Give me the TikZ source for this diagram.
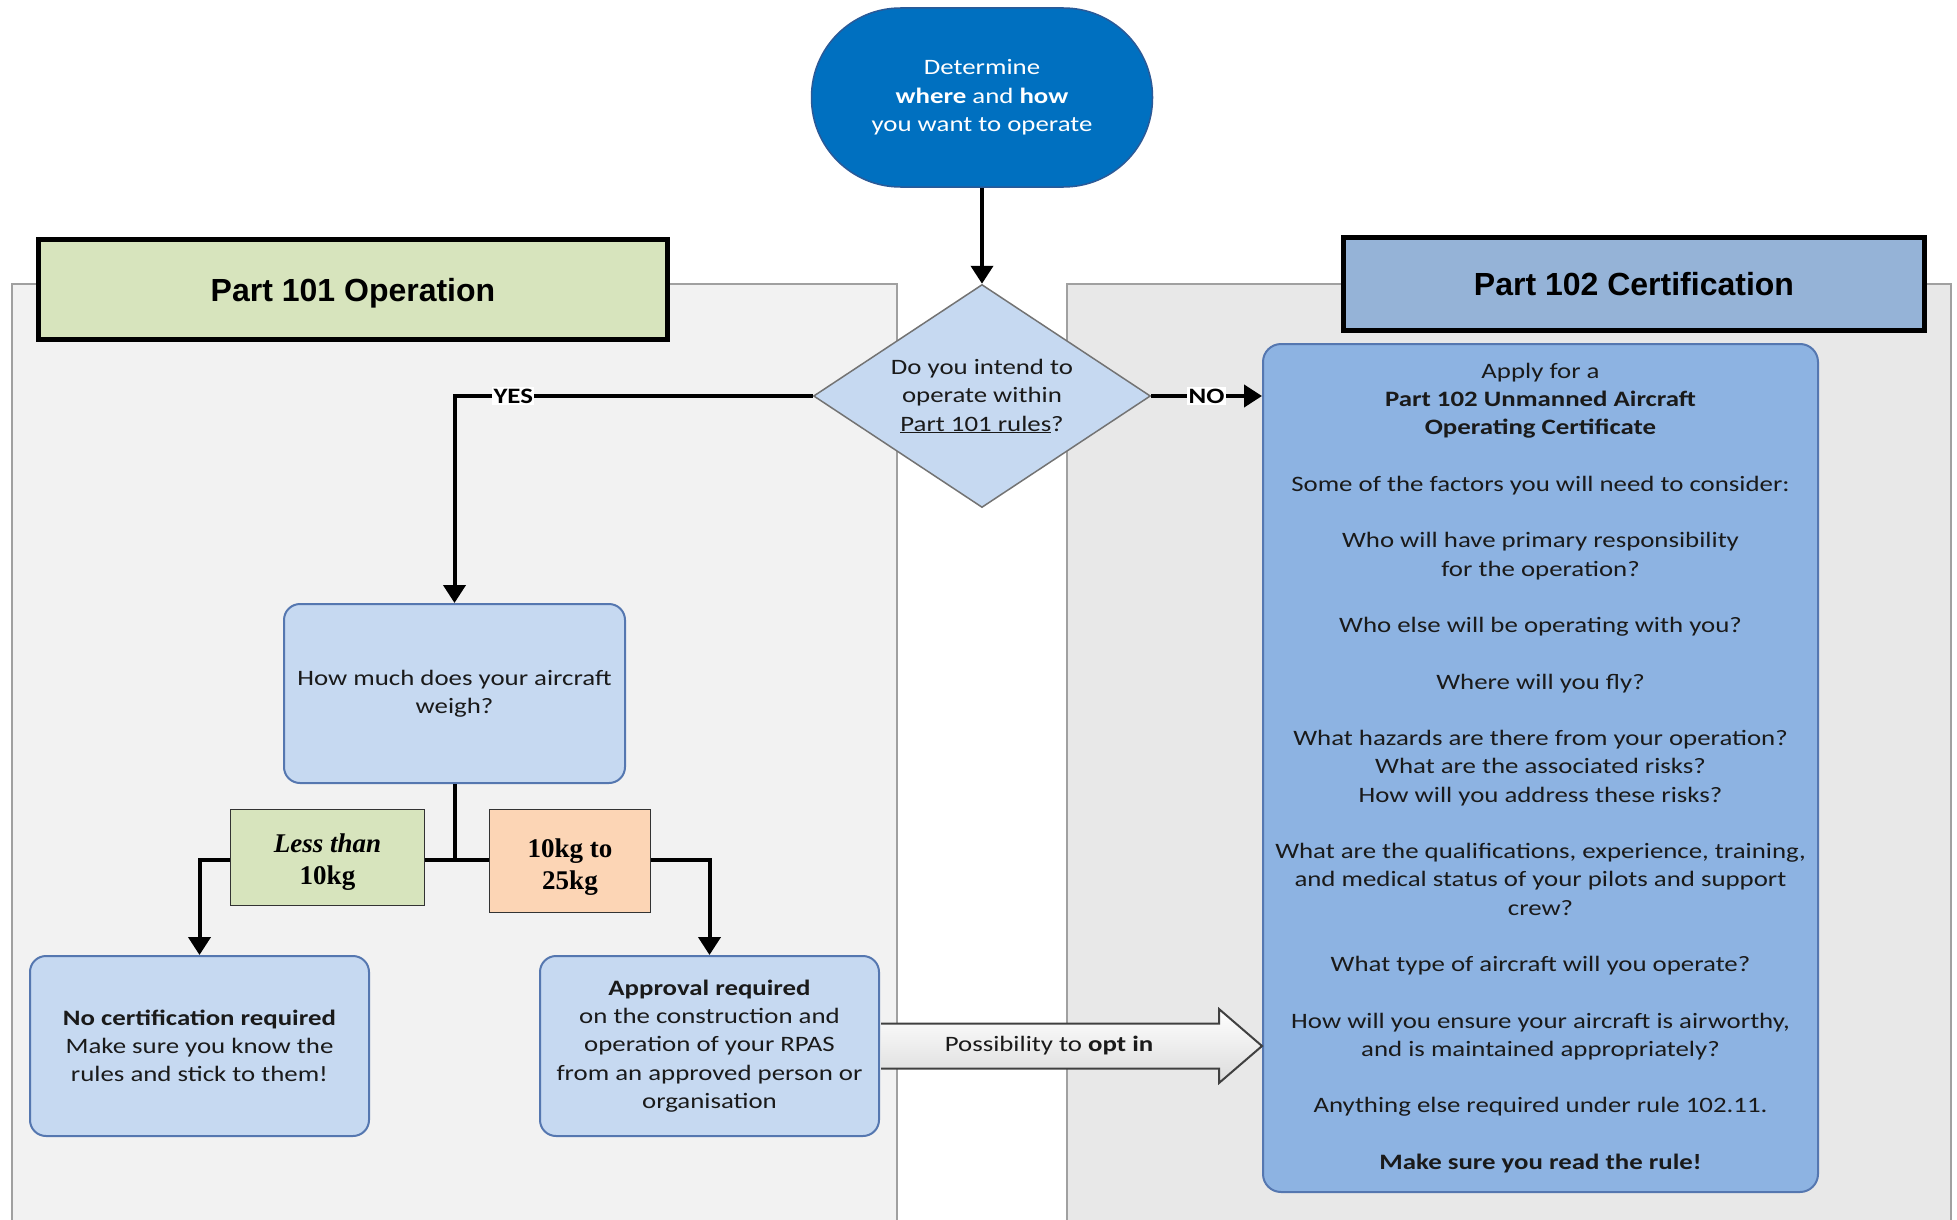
\documentclass[tikz,border=0pt]{standalone}
\usepackage{fontspec}
\setmainfont{Carlito}[FakeStretch=1.22]
\newfontfamily\hdrfont{Liberation Sans}
\newfontfamily\serifb{Liberation Serif}
\usetikzlibrary{shapes.geometric,arrows.meta,calc}
\newcommand\myfs[2]{\fontsize{#1}{#2}\selectfont}
\definecolor{panelL}{HTML}{F2F2F2}
\definecolor{panelR}{HTML}{E8E8E8}
\definecolor{panelline}{HTML}{A0A0A0}
\definecolor{hdrgreen}{HTML}{D7E4BD}
\definecolor{hdrblue}{HTML}{95B3D7}
\definecolor{termblue}{HTML}{0070C0}
\definecolor{termline}{HTML}{2A5A98}
\definecolor{lightbl}{HTML}{C6D9F1}
\definecolor{boxline}{HTML}{5577B0}
\definecolor{certblue}{HTML}{8DB3E2}
\definecolor{peach}{HTML}{FCD5B5}
\definecolor{txt}{HTML}{1A1A1A}
\tikzset{
  conn/.style={line width=4pt, draw=black},
  arr/.style={-{Triangle[length=18pt,width=22pt]}},
  hdr/.style={draw=black, line width=5pt, font=\hdrfont\bfseries\myfs{32}{38}, inner sep=0pt, text depth=0pt},
  lbox/.style={draw=boxline, line width=2pt, fill=lightbl, rounded corners=16pt, align=center,
    font=\myfs{22}{28.25}, text=txt, inner sep=0pt},
  lbl/.style={draw=black!80, line width=1.2pt, font=\serifb\bfseries\myfs{27}{32}, inner sep=0pt},
  yn/.style={fill=white, font=\bfseries\myfs{22}{26}, inner sep=1.5pt},
}
\begin{document}
\begin{tikzpicture}[x=1pt,y=-1pt]
\useasboundingbox (0,0) rectangle (1957,1220);
\fill[white] (0,0) rectangle (1957,1220);
% panels
\draw[draw=panelline, line width=2pt, fill=panelL] (12,1240) -- (12,284) -- (897,284) -- (897,1240);
\draw[draw=panelline, line width=2pt, fill=panelR] (1067,1240) -- (1067,284) -- (1951,284) -- (1951,1240);
% headers
\node[hdr, fill=hdrgreen, minimum width=629, minimum height=100] (h101) at (353,289.5) {Part 101 Operation};
\node[hdr, fill=hdrblue, minimum width=581, minimum height=93] (h102) at (1634,284) {Part 102 Certification};
% start terminal
\node[draw=termline, line width=1.5pt, fill=termblue, text=white, rounded corners=89pt,
  minimum width=341, minimum height=179, align=center, font=\myfs{22}{28.5}, inner sep=0pt]
  (start) at (982,97.5) {Determine\\\textbf{where} and \textbf{how}\\you want to operate};
% decision
\node[diamond, aspect=1.51, draw=black!55, line width=1.5pt, fill=lightbl, minimum width=337,
  minimum height=223, inner sep=0pt, align=center, font=\myfs{22}{28.5}, text=txt]
  (dia) at (982,396) {Do you intend to\\operate within\\\underline{Part 101 rules}?};
% boxes
\node[lbox, minimum width=341, minimum height=179] (weigh) at (454.5,693.5) {How much does your aircraft\\weigh?};
\node[lbox, minimum width=339, minimum height=180] (nocert) at (199.5,1046)
  {\textbf{No certification required}\\Make sure you know the\\rules and stick to them!};
\node[lbox, minimum width=339, minimum height=180] (appr) at (709.5,1046)
  {\textbf{Approval required}\\on the construction and\\operation of your RPAS\\from an approved person or\\organisation};
\node[lbox, fill=certblue, rounded corners=18pt, minimum width=555, minimum height=848] (cert) at (1540.5,768)
  {Apply for a\\\textbf{Part 102 Unmanned Aircraft}\\\textbf{Operating Certificate}\\[28.25pt]
   Some of the factors you will need to consider:\\[28.25pt]
   Who will have primary responsibility\\for the operation?\\[28.25pt]
   Who else will be operating with you?\\[28.25pt]
   Where will you fly?\\[28.25pt]
   What hazards are there from your operation?\\What are the associated risks?\\How will you address these risks?\\[28.25pt]
   What are the qualifications, experience, training,\\and medical status of your pilots and support\\crew?\\[28.25pt]
   What type of aircraft will you operate?\\[28.25pt]
   How will you ensure your aircraft is airworthy,\\and is maintained appropriately?\\[28.25pt]
   Anything else required under rule 102.11.\\[28.25pt]
   \textbf{Make sure you read the rule!}};
% connectors
\draw[conn, arr] (start.south) -- (dia.north);
\draw[conn, arr] (dia.west) -| (weigh.north) node[yn, pos=0.418] {YES};
\draw[conn, arr] (dia.east) -- (dia.east -| cert.west) node[yn, pos=0.5] {NO};
\coordinate (jn) at (454.5,860);
\draw[conn] (weigh.south) -- (jn);
\draw[conn, arr] (jn) -| (nocert.north);
\draw[conn, arr] (jn) -| (appr.north);
% weight labels
\node[lbl, fill=hdrgreen, minimum width=194, minimum height=96] (less) at (327.5,857.5)
  {\raisebox{-5pt}[\height][\depth]{\begin{tabular}{@{}c@{}}\textit{Less than}\\10kg\end{tabular}}};
\node[lbl, fill=peach, minimum width=161, minimum height=103] (mid) at (570,861)
  {\raisebox{-6pt}[\height][\depth]{\begin{tabular}{@{}c@{}}10kg to\\25kg\end{tabular}}};
% opt-in block arrow
\coordinate (tip) at (appr.east -| cert.west);
\path[top color=white, bottom color=black!14]
  ($(appr.east)+(1,-22.5)$) -- ($(tip)+(-43,-22.5)$) -- ($(tip)+(-43,-37)$) -- (tip)
  -- ($(tip)+(-43,37)$) -- ($(tip)+(-43,22.5)$) -- ($(appr.east)+(1,22.5)$) -- cycle;
\draw[draw=black!75, line width=2pt, line join=miter]
  ($(appr.east)+(1,-22.5)$) -- ($(tip)+(-43,-22.5)$) -- ($(tip)+(-43,-37)$) -- (tip)
  -- ($(tip)+(-43,37)$) -- ($(tip)+(-43,22.5)$) -- ($(appr.east)+(1,22.5)$);
\node[font=\myfs{22}{26}, text=txt, inner sep=0pt] (opt) at (1049,1046) {Possibility to \textbf{opt in}};
\end{tikzpicture}
\end{document}
